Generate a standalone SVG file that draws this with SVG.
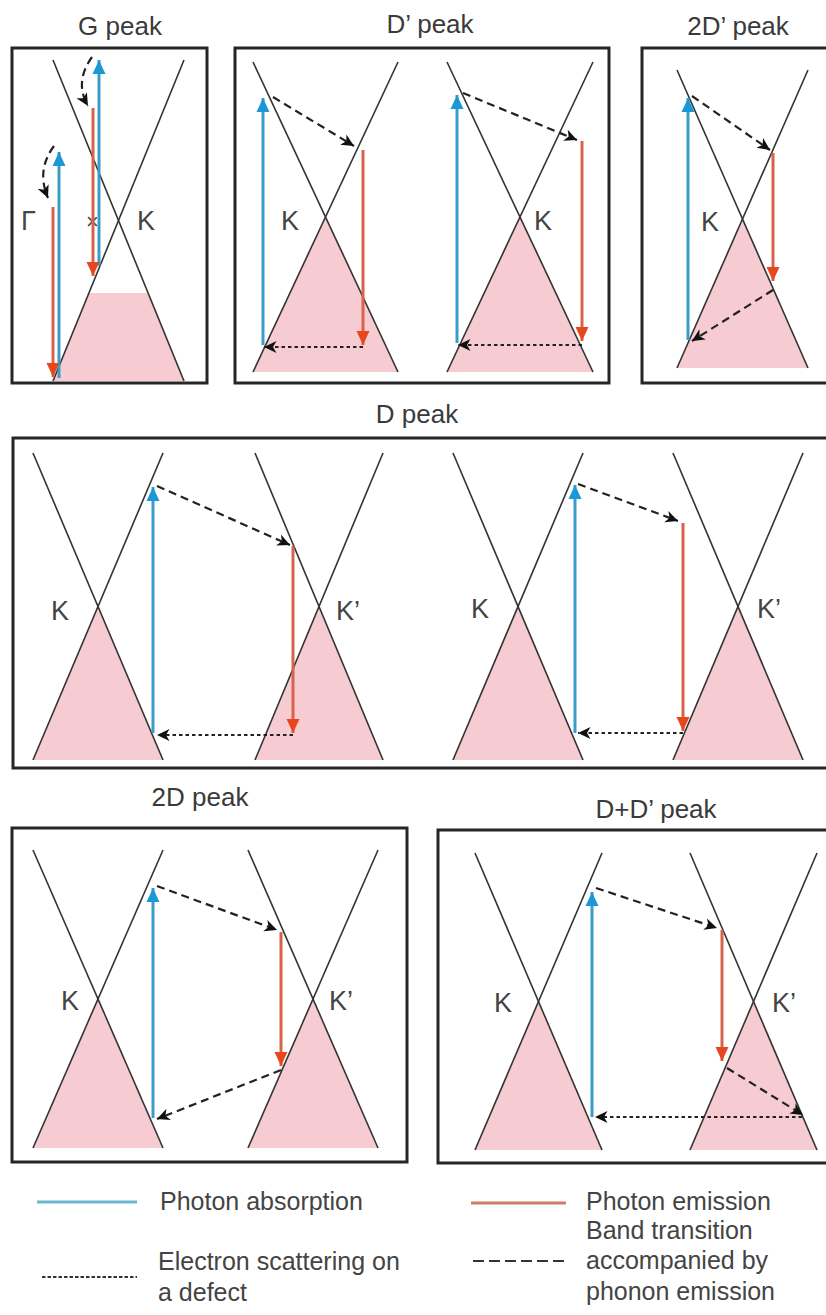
<svg xmlns="http://www.w3.org/2000/svg" width="826" height="1315" viewBox="0 0 826 1315">
<defs>
<style>
.box{fill:none;stroke:#262626;stroke-width:3}
.band{stroke:#333;stroke-width:1.6;fill:none}
.fill{fill:#f6ccd2;stroke:none}
.title{font-family:"Liberation Sans",Arial,sans-serif;font-size:26px;fill:#3a3a3a;text-anchor:middle}
.lbl{font-family:"Liberation Sans",Arial,sans-serif;font-size:27px;fill:#444}
.leg{font-family:"Liberation Sans",Arial,sans-serif;font-size:25px;fill:#444}
.abs{stroke:#3b9cc9;stroke-width:3;fill:none}
.emi{stroke:#d9634a;stroke-width:3;fill:none}
.pho{stroke:#222;stroke-width:2.2;stroke-dasharray:8 5;fill:none}
.def{stroke:#222;stroke-width:2;stroke-dasharray:3.5 3;fill:none}
</style>
<marker id="mb" markerUnits="userSpaceOnUse" markerWidth="14" markerHeight="14" viewBox="0 0 14 14" refX="14" refY="7" orient="auto"><path d="M0,0.5 L14,7 L0,13.5 z" fill="#1d98d6"/></marker>
<marker id="mr" markerUnits="userSpaceOnUse" markerWidth="14" markerHeight="14" viewBox="0 0 14 14" refX="14" refY="7" orient="auto"><path d="M0,0.5 L14,7 L0,13.5 z" fill="#e8461e"/></marker>
<marker id="mk" markerUnits="userSpaceOnUse" markerWidth="13" markerHeight="13" viewBox="0 0 13 13" refX="12.5" refY="6.5" orient="auto"><path d="M0,0.5 L12.5,6.5 L0,12.5 L3.5,6.5 z" fill="#111"/></marker>
</defs>
<rect width="826" height="1315" fill="#fff"/>

<g id="g-peak">
<text class="title" x="120" y="35">G peak</text>
<rect class="box" x="12" y="48" width="195" height="335"/>
<polygon class="fill" points="88.9,293 148.1,293 184,381 53,381"/>
<line class="band" x1="53" y1="60" x2="184" y2="381"/>
<line class="band" x1="184" y1="60" x2="53" y2="381"/>
<text class="lbl" x="21" y="230">Γ</text>
<text class="lbl" x="137" y="230">K</text>
<text x="86" y="229" font-family="Liberation Sans, Arial, sans-serif" font-size="22" fill="#444">×</text>
</g>

<g id="dprime-peak">
<text class="title" x="430" y="33">D’ peak</text>
<rect class="box" x="235" y="48" width="374" height="335"/>
<polygon class="fill" points="325.5,217 398,372 253,372"/>
<polygon class="fill" points="520,217 593,372 447,372"/>
<line class="band" x1="253" y1="62" x2="398" y2="372"/>
<line class="band" x1="398" y1="62" x2="253" y2="372"/>
<line class="band" x1="447" y1="62" x2="593" y2="372"/>
<line class="band" x1="593" y1="62" x2="447" y2="372"/>
<text class="lbl" x="281" y="230">K</text>
<text class="lbl" x="534" y="230">K</text>
</g>

<g id="twodprime-peak">
<text class="title" x="738" y="35">2D’ peak</text>
<rect class="box" x="642" y="48" width="190" height="335"/>
<polygon class="fill" points="742.5,219 808,368 677,368"/>
<line class="band" x1="677" y1="70" x2="808" y2="368"/>
<line class="band" x1="808" y1="70" x2="677" y2="368"/>
<text class="lbl" x="701" y="231">K</text>
</g>

<g id="d-peak">
<text class="title" x="417" y="423">D peak</text>
<rect class="box" x="13" y="438" width="819" height="330"/>
<polygon class="fill" points="98,606.5 163,760 33,760"/>
<polygon class="fill" points="319,606.5 383,760 255,760"/>
<polygon class="fill" points="518,606.5 583,760 453,760"/>
<polygon class="fill" points="738,606.5 803,760 673,760"/>
<line class="band" x1="33" y1="453" x2="163" y2="760"/>
<line class="band" x1="163" y1="453" x2="33" y2="760"/>
<line class="band" x1="255" y1="453" x2="383" y2="760"/>
<line class="band" x1="383" y1="453" x2="255" y2="760"/>
<line class="band" x1="453" y1="453" x2="583" y2="760"/>
<line class="band" x1="583" y1="453" x2="453" y2="760"/>
<line class="band" x1="673" y1="453" x2="803" y2="760"/>
<line class="band" x1="803" y1="453" x2="673" y2="760"/>
<text class="lbl" x="51" y="620">K</text>
<text class="lbl" x="336" y="620">K’</text>
<text class="lbl" x="471" y="618">K</text>
<text class="lbl" x="757" y="618">K’</text>
</g>

<g id="twod-peak">
<text class="title" x="200" y="806">2D peak</text>
<rect class="box" x="12" y="828" width="395" height="334"/>
<polygon class="fill" points="98,999 163,1148 33,1148"/>
<polygon class="fill" points="313,999 378,1148 248,1148"/>
<line class="band" x1="33" y1="850" x2="163" y2="1148"/>
<line class="band" x1="163" y1="850" x2="33" y2="1148"/>
<line class="band" x1="248" y1="850" x2="378" y2="1148"/>
<line class="band" x1="378" y1="850" x2="248" y2="1148"/>
<text class="lbl" x="61" y="1010">K</text>
<text class="lbl" x="329" y="1010">K’</text>
</g>

<g id="ddprime-peak">
<text class="title" x="656" y="818">D+D’ peak</text>
<rect class="box" x="438" y="830" width="394" height="333"/>
<polygon class="fill" points="538.5,1001.5 602,1150 475,1150"/>
<polygon class="fill" points="753.5,1001.5 817,1150 690,1150"/>
<line class="band" x1="475" y1="853" x2="602" y2="1150"/>
<line class="band" x1="602" y1="853" x2="475" y2="1150"/>
<line class="band" x1="690" y1="853" x2="817" y2="1150"/>
<line class="band" x1="817" y1="853" x2="690" y2="1150"/>
<text class="lbl" x="494" y="1012">K</text>
<text class="lbl" x="772" y="1012">K’</text>
</g>

<g id="connectors">
<!-- G peak -->
<line class="abs" x1="59" y1="378" x2="59" y2="152" marker-end="url(#mb)"/>
<line class="emi" x1="53" y1="207" x2="53" y2="377" marker-end="url(#mr)"/>
<line class="abs" x1="99" y1="266" x2="99" y2="60" marker-end="url(#mb)"/>
<line class="emi" x1="93" y1="108" x2="93" y2="276" marker-end="url(#mr)"/>
<path class="pho" d="M54,146 Q36,170 48,198" marker-end="url(#mk)"/>
<path class="pho" d="M92,57 Q74,82 88,106" marker-end="url(#mk)"/>
<!-- D' peak -->
<line class="abs" x1="263" y1="345" x2="263" y2="98" marker-end="url(#mb)"/>
<line class="pho" x1="273" y1="97" x2="354" y2="146" marker-end="url(#mk)"/>
<line class="emi" x1="363" y1="150" x2="363" y2="345" marker-end="url(#mr)"/>
<line class="def" x1="363" y1="347" x2="264" y2="347" marker-end="url(#mk)"/>
<line class="abs" x1="457" y1="343" x2="457" y2="95" marker-end="url(#mb)"/>
<line class="pho" x1="463" y1="93" x2="577" y2="140" marker-end="url(#mk)"/>
<line class="emi" x1="582" y1="141" x2="582" y2="341" marker-end="url(#mr)"/>
<line class="def" x1="582" y1="345" x2="458" y2="345" marker-end="url(#mk)"/>
<!-- 2D' peak -->
<line class="abs" x1="688" y1="340" x2="688" y2="98" marker-end="url(#mb)"/>
<line class="pho" x1="692" y1="96" x2="770" y2="150" marker-end="url(#mk)"/>
<line class="emi" x1="773" y1="153" x2="773" y2="281" marker-end="url(#mr)"/>
<line class="pho" x1="773" y1="290" x2="692" y2="341" marker-end="url(#mk)"/>
<!-- D peak -->
<line class="abs" x1="153" y1="733" x2="153" y2="487" marker-end="url(#mb)"/>
<line class="pho" x1="157" y1="486" x2="290" y2="545" marker-end="url(#mk)"/>
<line class="emi" x1="293" y1="546" x2="293" y2="733" marker-end="url(#mr)"/>
<line class="def" x1="293" y1="735" x2="157" y2="735" marker-end="url(#mk)"/>
<line class="abs" x1="575" y1="733" x2="575" y2="485" marker-end="url(#mb)"/>
<line class="pho" x1="578" y1="484" x2="678" y2="521" marker-end="url(#mk)"/>
<line class="emi" x1="683" y1="523" x2="683" y2="731" marker-end="url(#mr)"/>
<line class="def" x1="683" y1="733" x2="578" y2="733" marker-end="url(#mk)"/>
<!-- 2D peak -->
<line class="abs" x1="153" y1="1118" x2="153" y2="888" marker-end="url(#mb)"/>
<line class="pho" x1="157" y1="886" x2="277" y2="930" marker-end="url(#mk)"/>
<line class="emi" x1="281" y1="932" x2="281" y2="1066" marker-end="url(#mr)"/>
<line class="pho" x1="281" y1="1070" x2="157" y2="1119" marker-end="url(#mk)"/>
<!-- D+D' peak -->
<line class="abs" x1="592" y1="1117" x2="592" y2="892" marker-end="url(#mb)"/>
<line class="pho" x1="596" y1="888" x2="717" y2="928" marker-end="url(#mk)"/>
<line class="emi" x1="722" y1="930" x2="722" y2="1061" marker-end="url(#mr)"/>
<line class="pho" x1="727" y1="1068" x2="803" y2="1115" marker-end="url(#mk)"/>
<line class="def" x1="802" y1="1117" x2="595" y2="1117" marker-end="url(#mk)"/>
</g>

<g id="legend">
<line x1="37" y1="1202" x2="137" y2="1202" stroke="#6db6d2" stroke-width="3"/>
<text class="leg" x="160" y="1210">Photon absorption</text>
<line x1="471" y1="1203" x2="566" y2="1203" stroke="#cf7c69" stroke-width="3"/>
<text class="leg" x="586" y="1210">Photon emission</text>
<line x1="42" y1="1277" x2="137" y2="1277" stroke="#333" stroke-width="2" stroke-dasharray="3.5 2"/>
<text class="leg" x="158" y="1270">Electron scattering on</text>
<text class="leg" x="158" y="1301">a defect</text>
<line x1="473" y1="1261" x2="566" y2="1261" stroke="#333" stroke-width="2" stroke-dasharray="11 5"/>
<text class="leg" x="586" y="1239">Band transition</text>
<text class="leg" x="586" y="1269">accompanied by</text>
<text class="leg" x="586" y="1300">phonon emission</text>
</g>
</svg>
